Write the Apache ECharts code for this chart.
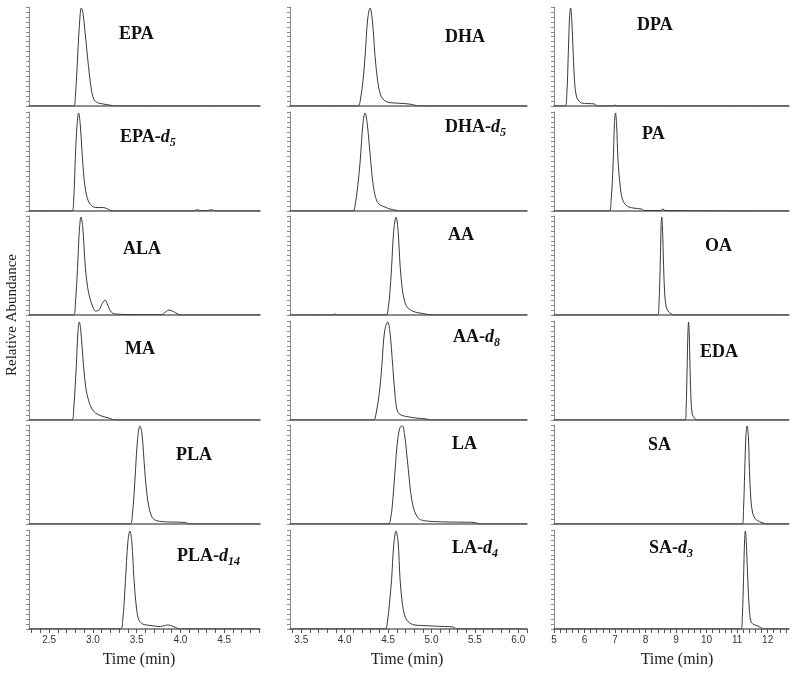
<!DOCTYPE html>
<html><head><meta charset="utf-8">
<script src="https://cdn.jsdelivr.net/npm/echarts@6/dist/echarts.min.js"></script>
<style>html,body{margin:0;padding:0;background:#fff}#c{width:800px;height:676px}</style>
</head><body><div id="c"></div>
<script>
// ---- Data: [time (min), relative abundance (%)] ----
const EPA = [[2.27,0],[2.78,0],[2.80,10],[2.82,40],[2.845,80],[2.868,99],[2.885,95],[2.91,75],[2.95,40],[2.98,18],[3.01,7],[3.05,3.5],[3.09,2.5],[3.15,1.5],[3.22,0.5],[3.25,0],[4.91,0]];
const EPA_d5 = [[2.27,0],[2.76,0],[2.78,10],[2.80,55],[2.82,88],[2.837,99],[2.855,88],[2.876,60],[2.90,32],[2.925,17],[2.96,8],[3.01,4],[3.06,3.5],[3.12,3.5],[3.17,2],[3.22,0],[4.14,0],[4.19,1.2],[4.24,0.3],[4.31,0.5],[4.35,1.2],[4.39,0.4],[4.42,0],[4.91,0]];
const ALA = [[2.27,0],[2.78,0],[2.80,12],[2.825,48],[2.845,85],[2.864,99],[2.885,88],[2.914,48],[2.94,28],[2.963,18],[3.0,8],[3.03,4],[3.07,5],[3.11,12],[3.14,15],[3.17,10],[3.21,3],[3.26,1],[3.4,0.5],[3.6,0.3],[3.78,0.3],[3.83,3],[3.87,5],[3.92,3.5],[3.97,1],[4.01,0],[4.91,0]];
const MA = [[2.27,0],[2.76,0],[2.78,10],[2.81,54],[2.83,90],[2.845,99],[2.86,92],[2.894,54],[2.92,32],[2.95,20],[2.99,11],[3.03,7],[3.1,4],[3.2,1.5],[3.25,0],[4.91,0]];
const PLA = [[2.27,0],[3.42,0],[3.45,8],[3.488,55],[3.51,85],[3.538,99],[3.56,92],[3.592,55],[3.615,32],[3.64,17],[3.67,8],[3.70,4.5],[3.78,2.5],[3.9,2],[4.06,1.5],[4.1,0],[4.91,0]];
const PLA_d14 = [[2.27,0],[3.31,0],[3.34,8],[3.373,50],[3.40,88],[3.423,99],[3.445,88],[3.47,50],[3.50,20],[3.526,9],[3.57,5],[3.62,4],[3.70,3],[3.77,2.5],[3.82,3.5],[3.86,4],[3.91,3],[3.97,0.5],[4.0,0],[4.91,0]];

const DHA = [[3.37,0],[4.15,0],[4.18,6],[4.21,25],[4.235,50],[4.265,88],[4.293,99],[4.32,85],[4.35,50],[4.38,25],[4.41,12],[4.44,7],[4.49,4],[4.58,3],[4.68,2.5],[4.78,1.5],[4.85,0],[6.10,0]];
const DHA_d5 = [[3.37,0],[4.094,0],[4.12,6],[4.15,25],[4.178,50],[4.21,88],[4.235,99],[4.26,88],[4.30,50],[4.33,25],[4.37,10],[4.41,6],[4.465,4],[4.52,2],[4.58,1],[4.62,0],[6.10,0]];
const AA = [[3.37,0],[3.86,0],[3.89,1],[3.92,0],[4.477,0],[4.50,6],[4.52,22],[4.54,48],[4.565,85],[4.592,99],[4.615,85],[4.638,50],[4.665,25],[4.69,14],[4.715,8.5],[4.76,5],[4.81,3],[4.9,1.5],[5.02,0],[6.10,0]];
const AA_d8 = [[3.37,0],[4.33,0],[4.36,6],[4.40,28],[4.427,54],[4.46,90],[4.496,99],[4.52,90],[4.554,54],[4.58,25],[4.607,9],[4.65,5],[4.715,3.5],[4.82,2],[4.945,1],[4.98,0],[6.10,0]];
const LA = [[3.37,0],[4.50,0],[4.53,6],[4.555,25],[4.58,54],[4.61,85],[4.64,98],[4.665,99],[4.69,90],[4.71,75],[4.733,55],[4.76,32],[4.79,17],[4.83,8],[4.87,4.5],[4.95,3],[5.02,2.5],[5.2,2],[5.4,1.8],[5.5,1.5],[5.55,0],[6.10,0]];
const LA_d4 = [[3.37,0],[4.465,0],[4.49,6],[4.515,25],[4.54,50],[4.565,85],[4.592,99],[4.615,88],[4.638,50],[4.665,25],[4.69,14],[4.715,9],[4.76,5.5],[4.81,4],[4.9,3.5],[5.02,3],[5.15,2.5],[5.25,2],[5.30,0],[6.10,0]];

const DPA = [[5,0],[5.36,0],[5.42,12],[5.468,53],[5.51,90],[5.545,99],[5.58,88],[5.63,53],[5.68,22],[5.74,9],[5.82,5],[5.9,3],[6.1,2.5],[6.34,2],[6.4,0],[6.95,0],[7.0,1.2],[7.05,0],[12.7,0]];
const PA = [[5,0],[6.81,0],[6.87,10],[6.94,50],[6.98,88],[7.015,99],[7.05,88],[7.10,50],[7.18,22],[7.265,10],[7.4,5],[7.59,3],[7.87,2],[7.95,0.5],[8.5,0.5],[8.57,2],[8.64,0.5],[12.7,0]];
const OA = [[5,0],[8.40,0],[8.44,12],[8.48,50],[8.51,90],[8.53,99],[8.555,88],[8.59,50],[8.63,20],[8.68,8],[8.76,3],[8.85,1],[8.9,0],[12.7,0]];
const EDA = [[5,0],[9.30,0],[9.33,12],[9.36,50],[9.39,90],[9.41,99],[9.43,88],[9.46,50],[9.49,20],[9.53,6],[9.6,2],[9.68,0],[12.7,0]];
const SA = [[5,0],[11.17,0],[11.21,15],[11.25,54],[11.29,90],[11.33,99],[11.37,88],[11.405,54],[11.45,25],[11.51,11],[11.6,5],[11.73,2.5],[11.9,0.5],[11.95,0],[12.7,0]];
const SA_d3 = [[5,0],[11.13,0],[11.17,12],[11.21,50],[11.245,90],[11.27,99],[11.30,88],[11.35,50],[11.40,20],[11.46,7],[11.55,4.5],[11.68,3],[11.8,1],[11.85,0],[12.7,0]];

// ---- Axis ticks / labels ----
const col1Ticks = [2.3,2.4,2.5,2.6,2.7,2.8,2.9,3.0,3.1,3.2,3.3,3.4,3.5,3.6,3.7,3.8,3.9,4.0,4.1,4.2,4.3,4.4,4.5,4.6,4.7,4.8,4.9];
const col1Labels = [2.5,3.0,3.5,4.0,4.5];
const col2Ticks = [3.4,3.5,3.6,3.7,3.8,3.9,4.0,4.1,4.2,4.3,4.4,4.5,4.6,4.7,4.8,4.9,5.0,5.1,5.2,5.3,5.4,5.5,5.6,5.7,5.8,5.9,6.0,6.1];
const col2Labels = [3.5,4.0,4.5,5.0,5.5,6.0];
const col3Ticks = [5,5.2,5.4,5.6,5.8,6,6.2,6.4,6.6,6.8,7,7.2,7.4,7.6,7.8,8,8.2,8.4,8.6,8.8,9,9.2,9.4,9.6,9.8,10,10.2,10.4,10.6,10.8,11,11.2,11.4,11.6,11.8,12,12.2,12.4,12.6];
const col3Labels = [5,6,7,8,9,10,11,12];
const yTicksMax = 100;

// ---- Layout config ----
const columns = [
  {left:29, width:231, min:2.27, max:4.91, ticks:col1Ticks, labels:col1Labels, dec:1, tx:139},
  {left:290, width:237, min:3.37, max:6.10, ticks:col2Ticks, labels:col2Labels, dec:1, tx:407},
  {left:554, width:235, min:5, max:12.7, ticks:col3Ticks, labels:col3Labels, dec:0, tx:677}
];
const panels = [
  {col:0,row:0,data:EPA,    text:'{b|EPA}', lx:119, ly:24},
  {col:0,row:1,data:EPA_d5, text:'{b|EPA-}{i|d}{s|5}', lx:120, ly:127},
  {col:0,row:2,data:ALA,    text:'{b|ALA}', lx:123, ly:239},
  {col:0,row:3,data:MA,     text:'{b|MA}', lx:125, ly:339},
  {col:0,row:4,data:PLA,    text:'{b|PLA}', lx:176, ly:445},
  {col:0,row:5,data:PLA_d14,text:'{b|PLA-}{i|d}{s|14}', lx:177, ly:546},
  {col:1,row:0,data:DHA,    text:'{b|DHA}', lx:445, ly:27},
  {col:1,row:1,data:DHA_d5, text:'{b|DHA-}{i|d}{s|5}', lx:445, ly:117},
  {col:1,row:2,data:AA,     text:'{b|AA}', lx:448, ly:225},
  {col:1,row:3,data:AA_d8,  text:'{b|AA-}{i|d}{s|8}', lx:453, ly:327},
  {col:1,row:4,data:LA,     text:'{b|LA}', lx:452, ly:434},
  {col:1,row:5,data:LA_d4,  text:'{b|LA-}{i|d}{s|4}', lx:452, ly:538},
  {col:2,row:0,data:DPA,    text:'{b|DPA}', lx:637, ly:15},
  {col:2,row:1,data:PA,     text:'{b|PA}', lx:642, ly:124},
  {col:2,row:2,data:OA,     text:'{b|OA}', lx:705, ly:236},
  {col:2,row:3,data:EDA,    text:'{b|EDA}', lx:700, ly:342},
  {col:2,row:4,data:SA,     text:'{b|SA}', lx:648, ly:435},
  {col:2,row:5,data:SA_d3,  text:'{b|SA-}{i|d}{s|3}', lx:649, ly:538}
];

const SERIF = "'Liberation Serif','Times New Roman',serif";
const SANS = "'Liberation Sans',Arial,sans-serif";
const rich = {
  b:{fontFamily:SERIF, fontWeight:'bold', fontSize:18, color:'#111', lineHeight:20},
  i:{fontFamily:SERIF, fontWeight:'bold', fontStyle:'italic', fontSize:18, color:'#111', lineHeight:20},
  s:{fontFamily:SERIF, fontWeight:'bold', fontStyle:'italic', fontSize:12, color:'#111', lineHeight:12, padding:[11,0,0,0]}
};

const grid=[], xAxis=[], yAxis=[], series=[], title=[];
panels.forEach((p,i)=>{
  const c = columns[p.col];
  const bottomRow = p.row === 5;
  grid.push({left:c.left, width:c.width, top:Math.round(7 + 104.6*p.row), height:99});
  xAxis.push({
    type:'value', gridIndex:i, min:c.min, max:c.max,
    axisLine:{show:true, lineStyle:{color:'#6a6a6a', width:1.6}},
    axisTick:{show:bottomRow, length:4, lineStyle:{color:'#555', width:1}, customValues:c.ticks},
    axisLabel:{show:bottomRow, customValues:c.labels, margin:6, fontFamily:SANS, fontSize:10, color:'#333',
      formatter:(v)=>Number(v).toFixed(c.dec)},
    splitLine:{show:false}
  });
  yAxis.push({
    type:'value', gridIndex:i, min:0, max:yTicksMax, interval:5,
    axisLine:{show:true, lineStyle:{color:'#8a8a8a', width:1}},
    axisTick:{show:true, length:3, lineStyle:{color:'#888', width:1}},
    axisLabel:{show:false}, splitLine:{show:false}
  });
  series.push({
    type:'line', xAxisIndex:i, yAxisIndex:i, data:p.data, showSymbol:false, symbol:'none',
    smooth:0.35, lineStyle:{color:'#3a3a3a', width:1}, silent:true, z:3
  });
  title.push({text:p.text, left:p.lx, top:p.ly, padding:0, textStyle:{rich:rich}});
});

const graphic = [
  {type:'text', x:12, y:315, rotation:Math.PI/2, style:{text:'Relative Abundance', font:"15px "+SERIF, fill:'#222', align:'center', verticalAlign:'middle'}}
];
columns.forEach(c=>{
  graphic.push({type:'text', x:c.tx, y:660, style:{text:'Time (min)', font:"16px "+SERIF, fill:'#222', align:'center', verticalAlign:'middle'}});
});

const chart = echarts.init(document.getElementById('c'), null, {renderer:'canvas'});
chart.setOption({animation:false, backgroundColor:'#fff', title, grid, xAxis, yAxis, series, graphic});
</script>
</body></html>
